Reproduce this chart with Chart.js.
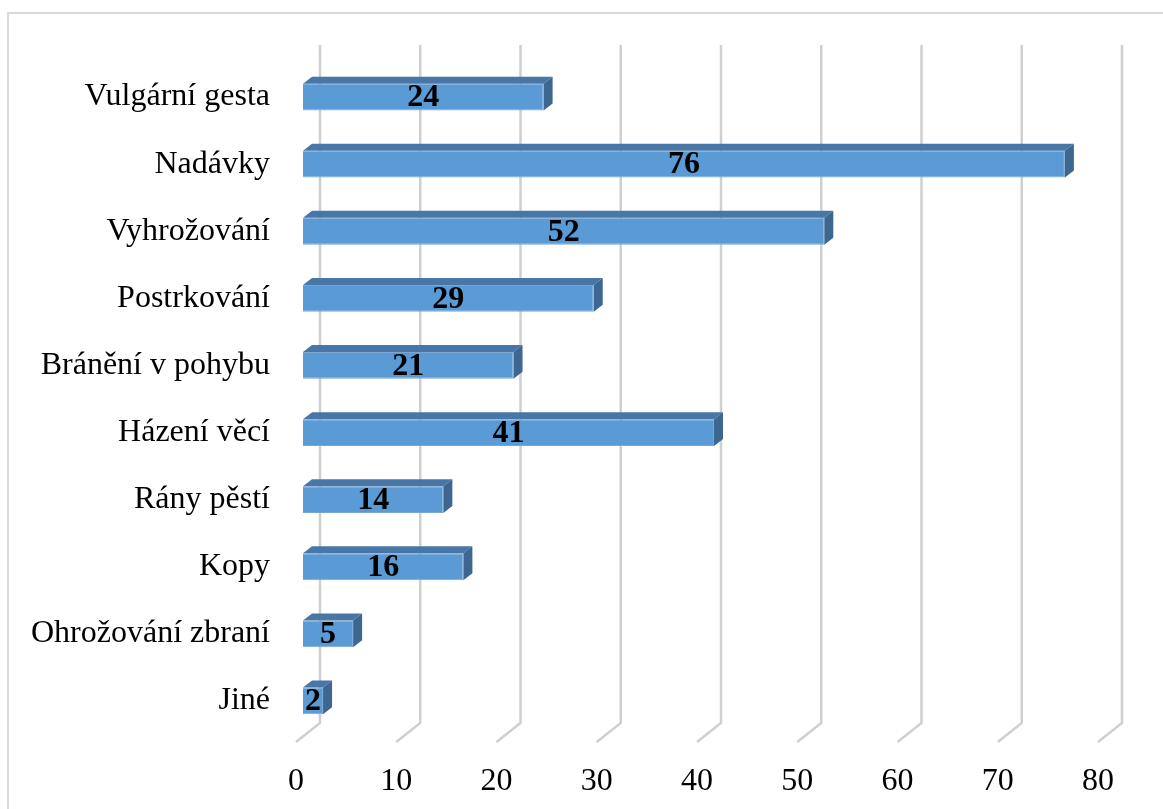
<!DOCTYPE html>
<html>
<head>
<meta charset="utf-8">
<script src="https://cdn.jsdelivr.net/npm/chart.js@4/dist/chart.umd.min.js"></script>
<style>
    html, body { margin: 0; padding: 0; background: #fff; }
    #wrap { width: 1163px; height: 809px; position: relative; }
</style>
</head>
<body>
<div id="wrap"><canvas id="chart" width="1163" height="809"></canvas></div>
<script>
const categories = ['Vulgární gesta', 'Nadávky', 'Vyhrožování', 'Postrkování', 'Bránění v pohybu',
    'Házení věcí', 'Rány pěstí', 'Kopy', 'Ohrožování zbraní', 'Jiné'];
const counts = [24, 76, 52, 29, 21, 41, 14, 16, 5, 2];
const tickValues = [0, 10, 20, 30, 40, 50, 60, 70, 80];

const FONT = "'Liberation Serif', 'Times New Roman', serif";

// back wall with the floor, and the frame round the chart
const wallPlugin = {
    id: 'wall',
    beforeDatasetsDraw(chart) {
        const ctx = chart.ctx;
        const x = chart.scales.x;
        ctx.save();
        ctx.strokeStyle = '#d9d9d9';
        ctx.lineWidth = 2;
        ctx.beginPath();
        ctx.moveTo(8, 809);
        ctx.lineTo(8, 13);
        ctx.lineTo(1163, 13);
        ctx.stroke();

        ctx.strokeStyle = '#cfcfcf';
        ctx.lineWidth = 2.5;
        tickValues.forEach(v => {
            const px = x.getPixelForValue(v) + 17;
            ctx.beginPath();
            ctx.moveTo(px, 45);
            ctx.lineTo(px, 723);
            ctx.lineTo(px - 24, 742);
            ctx.stroke();
        });
        ctx.restore();
    }
};

// top and side faces of the bars, then the value labels
const boxPlugin = {
    id: 'box',
    afterDatasetsDraw(chart) {
        const ctx = chart.ctx;
        const meta = chart.getDatasetMeta(0);
        const dx = 9, dy = -7;
        ctx.save();
        meta.data.forEach((bar, i) => {
            const top = bar.y - bar.height / 2;
            const bottom = bar.y + bar.height / 2;
            ctx.fillStyle = '#4876a6';
            ctx.beginPath();
            ctx.moveTo(bar.base, top);
            ctx.lineTo(bar.x, top);
            ctx.lineTo(bar.x + dx, top + dy);
            ctx.lineTo(bar.base + dx, top + dy);
            ctx.closePath();
            ctx.fill();
            ctx.fillStyle = '#3d6790';
            ctx.beginPath();
            ctx.moveTo(bar.x, top);
            ctx.lineTo(bar.x + dx, top + dy);
            ctx.lineTo(bar.x + dx, bottom + dy);
            ctx.lineTo(bar.x, bottom);
            ctx.closePath();
            ctx.fill();

            ctx.fillStyle = '#000';
            ctx.font = 'bold 32px ' + FONT;
            ctx.textAlign = 'center';
            ctx.textBaseline = 'middle';
            ctx.fillText(String(counts[i]), (bar.base + bar.x) / 2, bar.y + 1);
        });
        ctx.restore();
    }
};

new Chart(document.getElementById('chart'), {
    type: 'bar',
    data: {
        labels: categories,
        datasets: [{
            data: counts,
            backgroundColor: '#5b9bd5',
            borderColor: '#7aa6d2',
            borderWidth: 1,
            categoryPercentage: 1,
            barPercentage: 0.4
        }]
    },
    options: {
        indexAxis: 'y',
        responsive: false,
        animation: false,
        devicePixelRatio: 1,
        layout: { padding: { left: 0, right: 58, top: 63.5, bottom: 0 } },
        plugins: {
            legend: { display: false },
            tooltip: { enabled: false }
        },
        scales: {
            x: {
                min: 0,
                max: 80,
                afterFit: s => { s.height = 74.5; },
                grid: { display: false, drawTicks: false },
                border: { display: false },
                ticks: {
                    stepSize: 10,
                    labelOffset: -7,
                    padding: 28,
                    color: '#000',
                    font: { family: FONT, size: 32 }
                }
            },
            y: {
                afterFit: s => { s.width = 303; },
                grid: { display: false, drawTicks: false },
                border: { display: false },
                ticks: {
                    padding: 33,
                    color: '#000',
                    font: { family: FONT, size: 32 }
                }
            }
        }
    },
    plugins: [wallPlugin, boxPlugin]
});
</script>
</body>
</html>
